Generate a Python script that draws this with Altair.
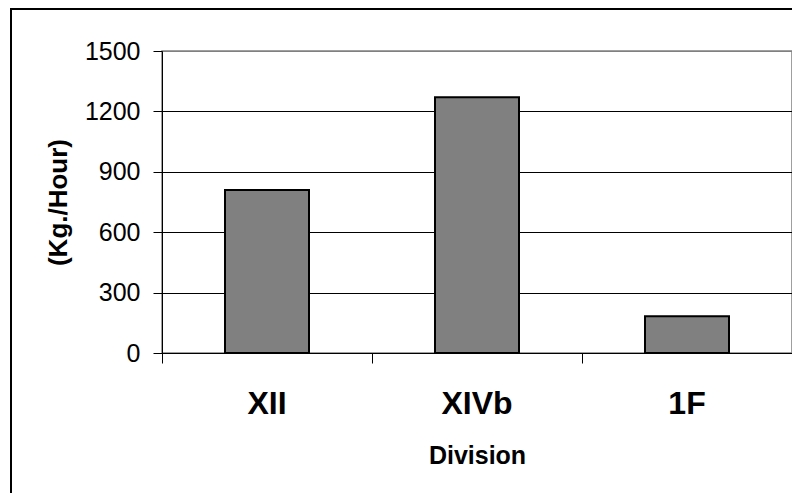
import altair as alt
import pandas as pd

divisions = ["XII", "XIVb", "1F"]
rates = [810, 1270, 182]
y_ticks = [0, 300, 600, 900, 1200, 1500]
category_edges = [0, 1, 2, 3]

df = pd.DataFrame({"Division": divisions, "Rate": rates})
edges = pd.DataFrame({"edge": category_edges})

bars = alt.Chart(df).mark_bar(color="#808080", stroke="#000000", strokeWidth=2).encode(
    x=alt.X(
        "Division:N",
        sort=divisions,
        scale=alt.Scale(paddingInner=0.6, paddingOuter=0.3),
        axis=alt.Axis(
            orient="bottom",
            title="Division",
            labelAngle=0,
            ticks=False,
            labelFont="Liberation Sans",
            labelFontSize=32,
            labelFontWeight="bold",
            labelColor="#000000",
            labelBaseline="middle",
            labelPadding=50,
            domainColor="#000000",
            titleFont="Liberation Sans",
            titleFontSize=25,
            titleFontWeight="bold",
            titleColor="#000000",
            titleBaseline="middle",
            titleY=102,
        ),
    ),
    y=alt.Y(
        "Rate:Q",
        scale=alt.Scale(domain=[0, 1500], nice=False),
        axis=alt.Axis(
            values=y_ticks,
            format="d",
            title="(Kg./Hour)",
            grid=True,
            gridColor={"condition": {"test": "datum.value === 1500", "value": "#808080"}, "value": "#000000"},
            gridWidth=1,
            labelFont="Liberation Sans",
            labelFontSize=25,
            labelColor="#000000",
            labelPadding=13,
            tickSize=9,
            tickColor="#000000",
            domainColor="#000000",
            titleFont="Liberation Sans",
            titleFontSize=26,
            titleFontWeight="bold",
            titleColor="#000000",
            titleAngle=-90,
            titleAlign="center",
            titleBaseline="middle",
            titleX=-104,
            titleY=151,
        ),
    ),
)

edge_ticks = alt.Chart(edges).mark_point(opacity=0).encode(
    x=alt.X(
        "edge:Q",
        scale=alt.Scale(domain=[0, 3], nice=False, zero=False),
        axis=alt.Axis(
            orient="bottom",
            values=category_edges,
            labels=False,
            ticks=True,
            tickSize=10,
            tickWidth=1,
            tickColor="#000000",
            domain=False,
            grid=False,
            title=None,
        ),
    ),
    y=alt.value(0),
)

border = alt.Chart(pd.DataFrame({"b": [0]})).mark_rect(
    filled=False, stroke="#000000", strokeWidth=2, clip=False
).encode(
    x=alt.value(-151), x2=alt.value(700), y=alt.value(-42), y2=alt.value(600)
)

chart = alt.layer(bars, edge_ticks, border).resolve_scale(x="independent").properties(
    width=630,
    height=302,
    autosize=alt.AutoSizeParams(type="none"),
    padding={"left": 154, "top": 43, "right": 0, "bottom": 140},
    background="#ffffff",
).configure_view(stroke="#808080", strokeWidth=1.5)

chart.save("out.html", embed_options={"renderer": "svg", "actions": False})
